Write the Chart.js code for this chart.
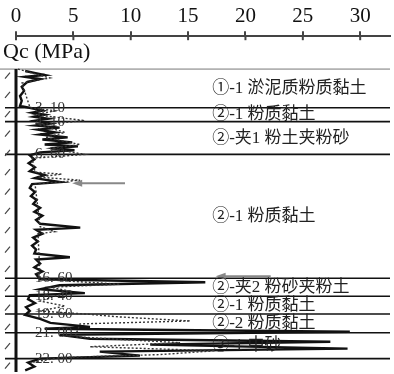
<!DOCTYPE html>
<html>
<head>
<meta charset="utf-8">
<script src="https://cdn.jsdelivr.net/npm/chart.js@4/dist/chart.umd.min.js"></script>
<style>
  html, body { margin: 0; padding: 0; background: #fff; }
  #wrap { width: 394px; height: 374px; }
</style>
</head>
<body>
<div id="wrap"><canvas id="c"></canvas></div>
<script>
// cone resistance trace (solid), depth in m, Qc in MPa
const qcDepth = [0.15, 0.3, 0.46, 0.6, 0.77, 1.0, 1.38, 1.7, 2.08, 2.46, 2.85,
  3.08, 3.23, 3.38, 3.54, 3.7, 3.85, 4.0,
  4.23, 4.38, 4.54, 4.69, 4.92, 5.08, 5.3, 5.46, 5.69, 5.85, 6.0, 6.15, 6.3, 6.46,
  6.69, 7.0, 7.3, 7.62, 7.92, 8.23, 8.46, 8.77, 8.92, 9.23, 9.54, 9.85, 10.15, 10.46, 10.77,
  11.08, 11.38, 11.7, 12.0, 12.3, 12.46, 12.77, 13.08, 13.38, 13.7, 14.0, 14.3, 14.6, 14.77,
  15.08, 15.38, 15.7, 15.92,
  16.31, 16.54, 16.77, 17.08, 17.38, 17.54, 17.85, 18.15, 18.46, 18.77, 19.08, 19.38, 19.69,
  20.0, 20.15, 20.38, 20.62, 20.92, 21.15, 21.38, 21.69, 21.92, 22.23, 22.46, 22.77, 23.08, 23.38];
const qcValues = [0.8, 1.6, 2.5, 0.8, 2.1, 1.0, 0.5, 0.7, 0.35, 0.5, 0.35,
  1.6, 2.3, 1.4, 2.5, 1.6, 2.8, 1.7,
  3.0, 1.7, 3.8, 1.9, 3.4, 2.1, 4.5, 2.3, 4.9, 2.5, 5.4, 3.0, 5.1, 2.1,
  1.2, 1.6, 1.1, 1.65, 1.2, 2.5, 1.65, 3.85, 1.4, 1.2, 1.65, 1.3, 1.8, 1.5, 2.1,
  1.6, 2.3, 1.75, 2.1, 5.6, 1.75, 2.3, 1.5, 1.9, 1.4, 1.75, 1.6, 4.7, 1.75,
  2.1, 1.6, 2.3, 1.75,
  2.1, 16.5, 3.8, 2.1, 6.0, 1.2, 1.05, 1.65, 0.87, 1.2, 0.8, 2.1, 3.0,
  6.45, 2.5, 29.1, 3.8, 6.45, 27.4, 11.7, 28.9, 7.3, 10.8, 2.1, 1.05, 1.6, 0.8];

// second (dotted) trace
const dotDepth = [0, 0.69, 1.08, 3.0, 3.23, 3.54, 4.0, 4.31, 4.92, 5.31, 5.85, 6.15, 6.62, 6.92,
  8.0, 8.15, 8.38, 8.62, 8.92, 12.23, 12.62, 12.77, 16.31, 16.69, 16.92, 17.23, 18.0, 18.38,
  18.77, 19.0, 19.23, 19.54, 19.77, 20.77, 21.23, 21.54, 21.85, 22.15, 22.38, 22.77];
const dotValues = [0.17, 2.96, 0.52, 1.22, 3.4, 1.66, 6.0, 2.1, 4.27, 2.53, 5.58, 2.96, 6.0, 1.4,
  1.66, 4.0, 1.92, 5.58, 1.66, 2.1, 3.4, 1.92, 2.1, 9.07, 2.96, 4.7, 2.1, 4.27,
  2.1, 6.0, 9.07, 15.2, 5.58, 5.14, 14.3, 6.45, 17.35, 12.55, 3.84, 1.22];

// layer boundaries (position on the plot) and the depths written beside them
const boundaryDepths = [3.0, 4.08, 6.62, 16.23, 17.62, 19.0, 20.46, 22.46];
const boundaryLabels = ['3. 10', '4. 10', '6. 60', '16. 60', '18. 40', '19. 60', '21. 00', '22. 00'];
const layerNames = ['①-1 淤泥质粉质黏土', '②-1 粉质黏土', '②-夹1 粉土夹粉砂', '②-1 粉质黏土',
  '②-夹2 粉砂夹粉土', '②-1 粉质黏土', '②-2 粉质黏土', '③-1 中砂'];

// grey arrows: depth, start Qc, tip Qc
const arrowDepths = [8.85, 16.08];
const arrowFrom = [9.5, 22.2];
const arrowTo = [4.9, 17.4];

const pts = (ys, xs) => ys.map((d, i) => ({ x: xs[i], y: d }));

const overlay = {
  id: 'overlay',
  beforeDatasetsDraw(chart) {
    const { ctx, chartArea, scales: { x, y } } = chart;
    const line = (a, b, c, d) => { ctx.beginPath(); ctx.moveTo(a, b); ctx.lineTo(c, d); ctx.stroke(); };
    ctx.save();
    const y0 = y.getPixelForValue(0);
    ctx.strokeStyle = '#777';
    ctx.lineWidth = 1;
    line(0, y0, chartArea.right, y0);
    ctx.strokeStyle = '#111';
    ctx.lineWidth = 1.6;
    boundaryDepths.forEach(d => {
      const py = y.getPixelForValue(d);
      line(5, py, chartArea.right, py);
    });
    ctx.restore();
  },
  afterDatasetsDraw(chart) {
    const { ctx, chartArea, scales: { x, y } } = chart;
    const line = (a, b, c, d) => { ctx.beginPath(); ctx.moveTo(a, b); ctx.lineTo(c, d); ctx.stroke(); };
    const x0 = x.getPixelForValue(0), y0 = y.getPixelForValue(0);
    ctx.save();

    // tick marks under the top axis line
    ctx.strokeStyle = '#444';
    ctx.lineWidth = 2;
    x.ticks.forEach(t => {
      const px = x.getPixelForValue(t.value);
      line(px, chartArea.top, px, chartArea.top + 4);
    });

    // depth axis
    ctx.strokeStyle = '#111';
    ctx.lineWidth = 3;
    line(x0, y0, x0, chartArea.bottom);
    ctx.strokeStyle = '#444';
    ctx.lineWidth = 1.2;
    for (let d = 0.5; d < 23.5; d += 1.5) {
      const py = y.getPixelForValue(d);
      line(5, py + 3, 10, py - 3);
    }

    // arrows
    ctx.strokeStyle = '#888';
    ctx.fillStyle = '#888';
    ctx.lineWidth = 2;
    arrowDepths.forEach((d, i) => {
      const py = y.getPixelForValue(d);
      const tip = x.getPixelForValue(arrowTo[i]);
      line(x.getPixelForValue(arrowFrom[i]), py, tip + 6, py);
      ctx.beginPath();
      ctx.moveTo(tip, py);
      ctx.lineTo(tip + 10, py - 3.5);
      ctx.lineTo(tip + 10, py + 3.5);
      ctx.closePath();
      ctx.fill();
    });

    // depth values on the boundaries
    ctx.fillStyle = '#333';
    ctx.font = '15px "Liberation Serif"';
    ctx.textBaseline = 'middle';
    ctx.textAlign = 'left';
    boundaryDepths.forEach((d, i) => {
      ctx.fillText(boundaryLabels[i], x.getPixelForValue(1.65), y.getPixelForValue(d));
    });

    // layer names
    ctx.fillStyle = '#222';
    ctx.font = '17px "Liberation Serif", "Noto Sans CJK SC"';
    const edges = [0].concat(boundaryDepths);
    layerNames.forEach((name, i) => {
      const mid = (edges[i] + edges[i + 1]) / 2;
      ctx.fillText(name, x.getPixelForValue(17.1), y.getPixelForValue(mid));
    });

    // axis name
    ctx.fillStyle = '#111';
    ctx.font = '22px "Liberation Serif"';
    ctx.fillText('Qc (MPa)', 3, (chartArea.top + y0) / 2);
    ctx.restore();
  }
};

new Chart(document.getElementById('c'), {
  type: 'scatter',
  data: {
    datasets: [
      {
        data: pts(dotDepth, dotValues),
        showLine: true,
        borderColor: '#333',
        borderWidth: 1.4,
        borderDash: [2, 2],
        pointRadius: 0,
        tension: 0
      },
      {
        data: pts(qcDepth, qcValues),
        showLine: true,
        borderColor: '#111',
        borderWidth: 2.4,
        pointRadius: 0,
        tension: 0
      }
    ]
  },
  options: {
    responsive: true,
    maintainAspectRatio: false,
    animation: false,
    layout: { padding: { left: 16, right: 4, top: 2, bottom: 2 } },
    plugins: { legend: { display: false }, tooltip: { enabled: false } },
    scales: {
      x: {
        type: 'linear',
        position: 'top',
        min: 0,
        max: 32.6,
        ticks: {
          stepSize: 5,
          includeBounds: false,
          color: '#111',
          padding: 2,
          maxRotation: 0,
          font: { family: '"Liberation Serif"', size: 21 }
        },
        grid: { drawOnChartArea: false, tickLength: 5, color: '#444', lineWidth: 2 },
        border: { color: '#444', width: 2 }
      },
      y: {
        type: 'linear',
        reverse: true,
        min: -2.55,
        max: 23.5,
        display: false
      }
    }
  },
  plugins: [overlay]
});
</script>
</body>
</html>
